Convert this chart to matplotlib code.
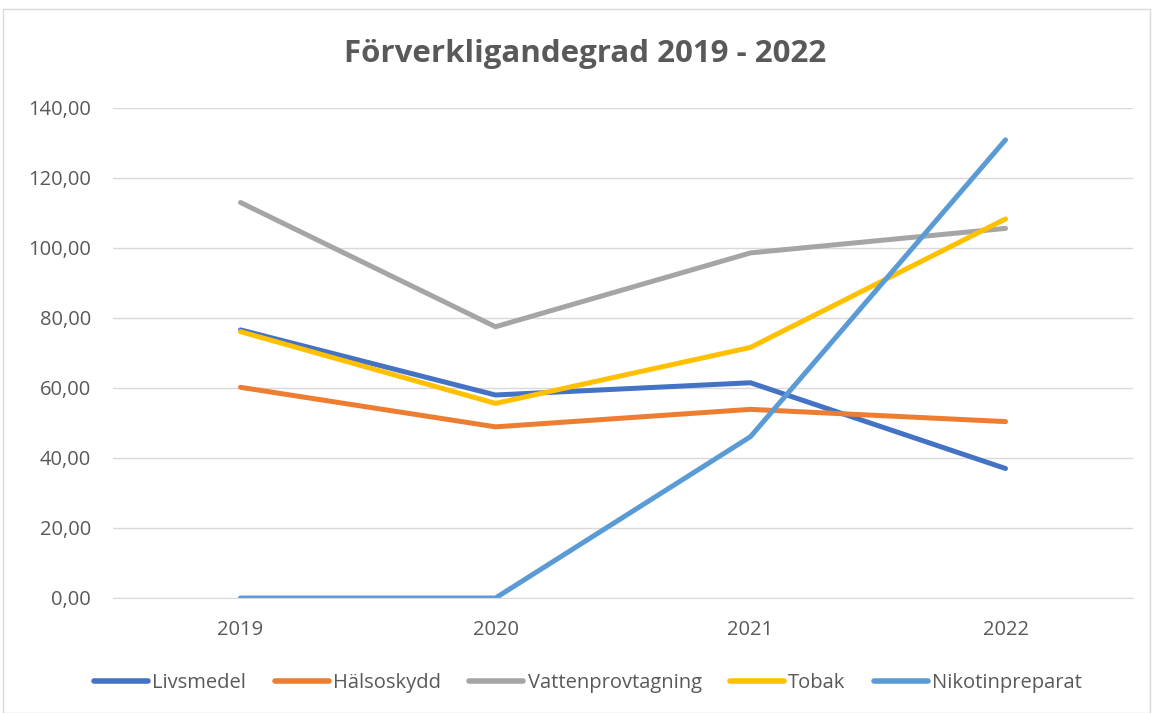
import matplotlib
matplotlib.use("Agg")
import matplotlib.pyplot as plt
from matplotlib.patches import Rectangle
from matplotlib.ticker import FuncFormatter

years = ["2019", "2020", "2021", "2022"]
series_names = ["Livsmedel", "Hälsoskydd", "Vattenprovtagning", "Tobak", "Nikotinpreparat"]
livsmedel = [76.6, 58.0, 61.5, 37.0]
halsoskydd = [60.2, 48.9, 53.9, 50.4]
vattenprovtagning = [113.0, 77.5, 98.6, 105.6]
tobak = [76.1, 55.6, 71.6, 108.3]
nikotinpreparat = [0.0, 0.0, 46.1, 130.9]
colors = ["#4472C4", "#ED7D31", "#A5A5A5", "#FFC000", "#5B9BD5"]
yticks = [0, 20, 40, 60, 80, 100, 120, 140]

W, H = 1152, 713
fig = plt.figure(figsize=(W / 100, H / 100), dpi=100)
plt.rcParams['font.family'] = ['Open Sans', 'DejaVu Sans']
fig.patches.append(Rectangle((3 / W, 0), (1150 - 3) / W, 1 - 9 / H, transform=fig.transFigure,
                             fill=False, edgecolor="#D9D9D9", linewidth=1))

ax = fig.add_axes([113 / W, 1 - 598 / H, (1133 - 113) / W, (598 - 108) / H])
x = list(range(len(years)))
for name, vals, c in zip(series_names, [livsmedel, halsoskydd, vattenprovtagning, tobak, nikotinpreparat], colors):
    ax.plot(x, vals, color=c, linewidth=3.6, solid_capstyle="round", solid_joinstyle="round", label=name)

ax.set_xlim(-0.5, len(years) - 0.5)
ax.set_ylim(0, 140)
ax.set_yticks(yticks)
ax.yaxis.set_major_formatter(FuncFormatter(lambda v, p: f"{v:.2f}".replace(".", ",")))
ax.set_xticks(x)
ax.set_xticklabels(years)
ax.grid(axis="y", color="#D9D9D9", linewidth=1)
ax.set_axisbelow(True)
for s in ["top", "right", "left"]:
    ax.spines[s].set_visible(False)
ax.spines["bottom"].set_color("#D9D9D9")
ax.tick_params(length=0, labelsize=14.5, labelcolor="#595959")
ax.tick_params(axis="x", pad=16)
ax.tick_params(axis="y", pad=16)

fig.text(585 / W, 1 - 54 / H, "Förverkligandegrad 2019 - 2022", ha="center", va="center",
         fontsize=22.5, fontweight="bold", color="#595959")

leg = fig.legend(loc="center", bbox_to_anchor=(588 / W, 1 - 683 / H), ncol=5, frameon=False,
                 fontsize=14.5, handlelength=2.7, columnspacing=1.4, handletextpad=0.2)
for line in leg.get_lines():
    line.set_linewidth(4.0)
for t in leg.get_texts():
    t.set_color("#595959")

fig.savefig("out.png", dpi=100)
